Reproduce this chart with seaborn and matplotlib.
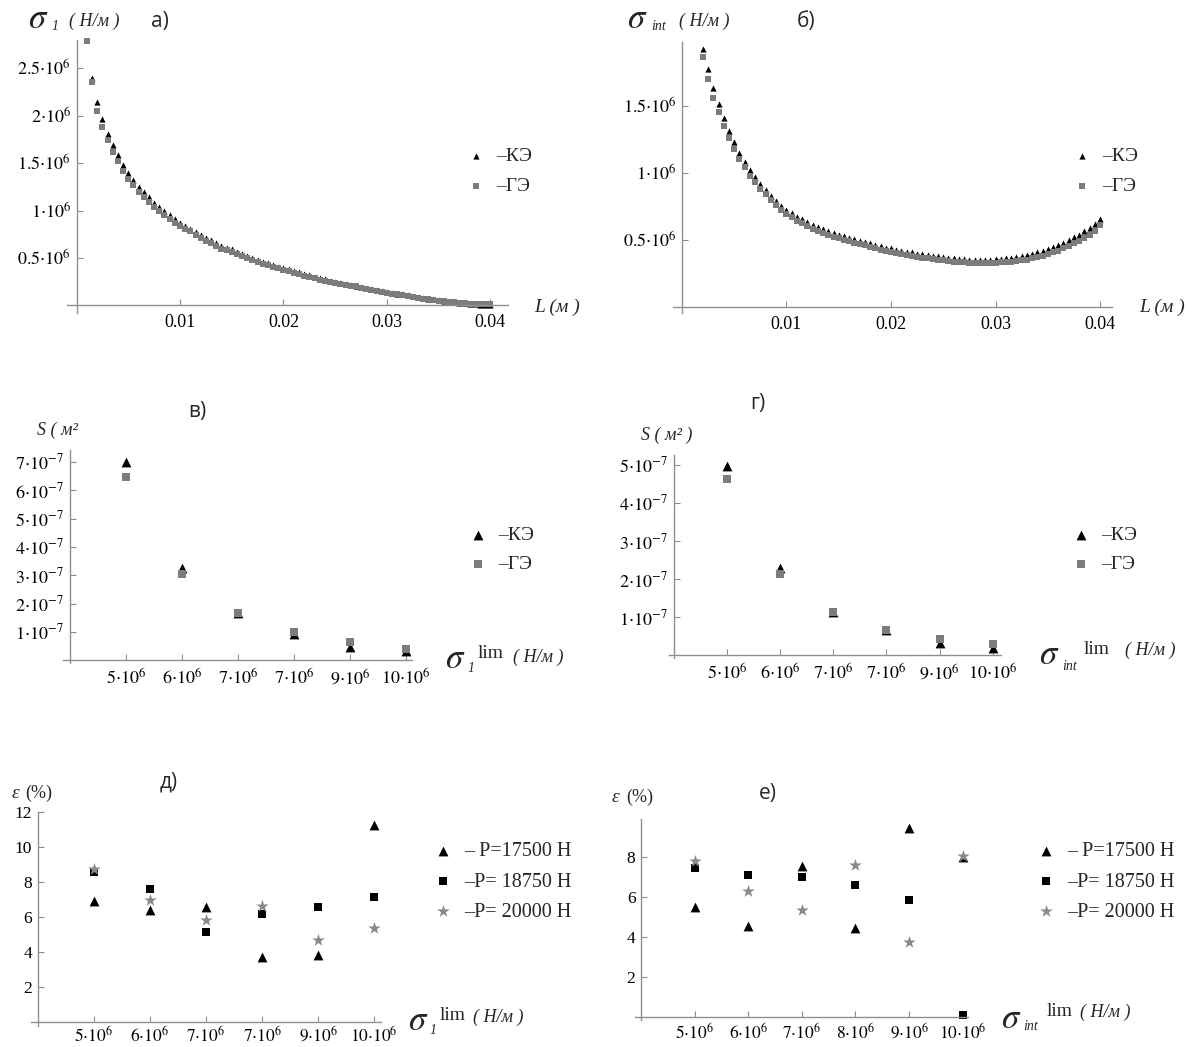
import numpy as np
import pandas as pd
import matplotlib
matplotlib.use("Agg")
import matplotlib.pyplot as plt
import seaborn as sns

# ---------------- data ----------------
# panel a: sigma_1 (x1e6 N/m) vs L (m)
L_a = [0.0015, 0.002, 0.0025, 0.003, 0.0035, 0.004, 0.0045, 0.005, 0.0055, 0.006,
       0.0065, 0.007, 0.0075, 0.008, 0.0085, 0.009, 0.0095, 0.010, 0.0105, 0.011,
       0.0115, 0.012, 0.0125, 0.013, 0.0135, 0.014, 0.0145, 0.015, 0.0155, 0.016,
       0.0165, 0.017, 0.0175, 0.018, 0.0185, 0.019, 0.0195, 0.020, 0.0205, 0.021,
       0.0215, 0.022, 0.0225, 0.023, 0.0235, 0.024, 0.0245, 0.025, 0.0255, 0.026,
       0.0265, 0.027, 0.0275, 0.028, 0.0285, 0.029, 0.0295, 0.030, 0.0305, 0.031,
       0.0315, 0.032, 0.0325, 0.033, 0.0335, 0.034, 0.0345, 0.035, 0.0355, 0.036,
       0.0365, 0.037, 0.0375, 0.038, 0.0385, 0.039, 0.0395, 0.040]
sigma1_ke = [2.40, 2.14, 1.96, 1.81, 1.69, 1.58, 1.48, 1.39, 1.32, 1.25,
             1.19, 1.14, 1.08, 1.04, 0.99, 0.95, 0.91, 0.87, 0.84, 0.81,
             0.77, 0.74, 0.71, 0.69, 0.66, 0.63, 0.61, 0.59, 0.56, 0.54,
             0.52, 0.50, 0.48, 0.46, 0.45, 0.43, 0.41, 0.39, 0.38, 0.36,
             0.35, 0.33, 0.32, 0.30, 0.29, 0.28, 0.26, 0.25, 0.24, 0.23,
             0.22, 0.21, 0.19, 0.18, 0.17, 0.16, 0.15, 0.14, 0.13, 0.12,
             0.12, 0.11, 0.10, 0.09, 0.08, 0.07, 0.07, 0.06, 0.05, 0.045,
             0.04, 0.03, 0.025, 0.02, 0.015, 0.01, 0.005, 0.0]
L_a_ge = [0.001] + L_a
sigma1_ge = [2.78,
             2.35, 2.05, 1.88, 1.74, 1.62, 1.52, 1.42, 1.33, 1.27, 1.20,
             1.14, 1.09, 1.04, 1.00, 0.95, 0.91, 0.87, 0.84, 0.81, 0.78,
             0.74, 0.71, 0.68, 0.66, 0.63, 0.60, 0.58, 0.56, 0.54, 0.52,
             0.50, 0.48, 0.46, 0.44, 0.43, 0.41, 0.39, 0.37, 0.36, 0.34,
             0.33, 0.31, 0.30, 0.29, 0.27, 0.26, 0.25, 0.24, 0.23, 0.22,
             0.21, 0.20, 0.18, 0.17, 0.16, 0.15, 0.14, 0.13, 0.12, 0.12,
             0.11, 0.10, 0.09, 0.08, 0.07, 0.07, 0.06, 0.05, 0.05, 0.04,
             0.035, 0.03, 0.025, 0.02, 0.02, 0.015, 0.015, 0.015]

# panel b: sigma_int (x1e6 N/m) vs L (m)
L_b = [0.002, 0.0025, 0.003, 0.0035, 0.004, 0.0045, 0.005, 0.0055, 0.006, 0.0065,
       0.007, 0.0075, 0.008, 0.0085, 0.009, 0.0095, 0.010, 0.0105, 0.011, 0.0115,
       0.012, 0.0125, 0.013, 0.0135, 0.014, 0.0145, 0.015, 0.0155, 0.016, 0.0165,
       0.017, 0.0175, 0.018, 0.0185, 0.019, 0.0195, 0.020, 0.0205, 0.021, 0.0215,
       0.022, 0.0225, 0.023, 0.0235, 0.024, 0.0245, 0.025, 0.0255, 0.026, 0.0265,
       0.027, 0.0275, 0.028, 0.0285, 0.029, 0.0295, 0.030, 0.0305, 0.031, 0.0315,
       0.032, 0.0325, 0.033, 0.0335, 0.034, 0.0345, 0.035, 0.0355, 0.036, 0.0365,
       0.037, 0.0375, 0.038, 0.0385, 0.039, 0.0395, 0.040]
sigmaint_ke = [1.92, 1.77, 1.63, 1.51, 1.41, 1.31, 1.23, 1.15, 1.08, 1.02,
               0.97, 0.92, 0.87, 0.83, 0.79, 0.755, 0.725, 0.70, 0.675, 0.655,
               0.635, 0.615, 0.60, 0.585, 0.57, 0.555, 0.54, 0.53, 0.515, 0.505,
               0.495, 0.485, 0.475, 0.465, 0.455, 0.445, 0.44, 0.43, 0.42, 0.415,
               0.41, 0.40, 0.395, 0.39, 0.385, 0.38, 0.375, 0.37, 0.365, 0.36,
               0.36, 0.355, 0.355, 0.355, 0.355, 0.355, 0.36, 0.36, 0.365, 0.37,
               0.375, 0.38, 0.39, 0.40, 0.41, 0.42, 0.435, 0.45, 0.465, 0.48,
               0.50, 0.52, 0.54, 0.565, 0.59, 0.62, 0.66]
sigmaint_ge = [1.86, 1.70, 1.56, 1.45, 1.35, 1.26, 1.18, 1.10, 1.04, 0.98,
               0.93, 0.88, 0.84, 0.80, 0.76, 0.725, 0.695, 0.67, 0.645, 0.625,
               0.605, 0.585, 0.57, 0.555, 0.54, 0.525, 0.515, 0.50, 0.49, 0.48,
               0.47, 0.46, 0.45, 0.44, 0.43, 0.42, 0.41, 0.405, 0.395, 0.39,
               0.385, 0.375, 0.37, 0.365, 0.36, 0.355, 0.35, 0.345, 0.34, 0.335,
               0.335, 0.33, 0.33, 0.33, 0.33, 0.33, 0.33, 0.335, 0.335, 0.34,
               0.345, 0.35, 0.355, 0.365, 0.375, 0.385, 0.395, 0.41, 0.42, 0.44,
               0.455, 0.475, 0.495, 0.515, 0.54, 0.57, 0.61]

# panels c-f: limit stress (x1e6 N/m)
sigma_lim = [5, 6, 7, 8, 9, 10]
lim_labels_c = ["5", "6", "7", "7", "9", "10"]
lim_labels_f = ["5", "6", "7", "8", "9", "10"]

# panel в: S (x1e-7 m^2)
S_c_ke = [7.0, 3.24, 1.67, 0.92, 0.47, 0.33]
S_c_ge = [6.48, 3.03, 1.65, 1.00, 0.65, 0.41]
# panel г
S_d_ke = [4.97, 2.28, 1.14, 0.65, 0.32, 0.18]
S_d_ge = [4.62, 2.14, 1.12, 0.65, 0.41, 0.30]
# panel д: eps (%)
eps_e_17500 = [6.93, 6.39, 6.58, 3.72, 3.82, 11.3]
eps_e_18750 = [8.59, 7.63, 5.15, 6.16, 6.58, 7.16]
eps_e_20000 = [8.74, 6.97, 5.86, 6.62, 4.68, 5.40]
# panel е
eps_f_17500 = [5.50, 4.57, 7.57, 4.45, 9.45, 8.00]
eps_f_18750 = [7.45, 7.10, 7.00, 6.58, 5.87, 0.08]
eps_f_20000 = [7.78, 6.28, 5.37, 7.58, 3.75, 8.07]

# ---------------- style ----------------
sns.set_theme(style="white")
plt.rcParams["font.family"] = ["Liberation Serif", "DejaVu Serif"]
plt.rcParams["mathtext.fontset"] = "stix"

BLACK = "#000000"
GRAY = "#7c7c7c"
STAR = "#8a8a8a"
AXC = "#8f8f8f"
SANS = ["Open Sans", "DejaVu Sans"]

W, H = 1196, 1047
fig = plt.figure(figsize=(W / 100, H / 100), dpi=100)


def box(x0, y0, x1, y1):
    return [x0 / W, 1 - y1 / H, (x1 - x0) / W, (y1 - y0) / H]


def ftext(x, y, s, **kw):
    kw.setdefault("va", "center")
    kw.setdefault("ha", "left")
    fig.text(x / W, 1 - y / H, s, **kw)


def style_axes(ax, x0, xlim, ylim, xticks, xlabels, yticks, ylabels, fs=12.5, xpad=6):
    ax.set_xlim(*xlim)
    ax.set_ylim(*ylim)
    for s in ["top", "right"]:
        ax.spines[s].set_visible(False)
    ax.spines["left"].set_position(("data", x0))
    ax.spines["bottom"].set_position(("data", 0))
    for s in ["left", "bottom"]:
        ax.spines[s].set_color(AXC)
        ax.spines[s].set_linewidth(1.0)
    ax.set_xticks(xticks, xlabels)
    ax.set_yticks(yticks, ylabels)
    ax.tick_params(direction="in", length=4, width=0.8, color=AXC,
                   labelsize=fs, labelcolor="black")
    ax.tick_params(axis="x", pad=xpad, bottom=True)
    ax.tick_params(axis="y", pad=4, left=True)
    ax.set_xlabel("")
    ax.set_ylabel("")
    ax.grid(False)
    ax.patch.set_alpha(0)


def add_legend(ax, mx, y_first, y_last, fs, spacing):
    handles, labels = ax.get_legend_handles_labels()
    hl = 1.0
    hw_px = hl * fs * 100 / 72
    yc = (y_first + y_last) / 2
    ax.legend(handles, labels, loc="center left",
              bbox_to_anchor=((mx - hw_px / 2) / W, 1 - yc / H),
              bbox_transform=fig.transFigure, frameon=False, borderpad=0,
              borderaxespad=0, handlelength=hl, handletextpad=0.55,
              labelspacing=spacing, scatterpoints=1,
              prop={"family": ["Liberation Serif"], "size": fs})


def e6(v):
    return r"$%s{\cdot}10^{6}$" % v


def e7(v):
    return r"$%s{\cdot}10^{-7}$" % v


# ---------------- panel а ----------------
ax = fig.add_axes(box(67, 40, 508, 313))
sns.scatterplot(x=L_a, y=sigma1_ke, marker="^", color=BLACK, s=20, linewidth=0,
                ax=ax, label="–КЭ", clip_on=False)
sns.scatterplot(x=L_a_ge, y=sigma1_ge, marker="s", color=GRAY, s=15, linewidth=0,
                ax=ax, label="–ГЭ", clip_on=False)
style_axes(ax, 0, (-0.00092, 0.0417), (-0.079, 2.795),
           [0.01, 0.02, 0.03, 0.04], ["0.01", "0.02", "0.03", "0.04"],
           [0.5, 1, 1.5, 2, 2.5], [e6("0.5"), e6("1"), e6("1.5"), e6("2"), e6("2.5")],
           fs=13)
add_legend(ax, 476, 154, 189, 14, 0.65)
ftext(28, 19, r"$\sigma$", size=25)
ftext(52, 26, "1", size=10, fontstyle="italic")
ftext(69, 21, "( Н/м )", size=13, fontstyle="italic")
ftext(151, 22, "а)", size=15, family=SANS)
ftext(534, 307, "L (м )", size=14, fontstyle="italic")

# ---------------- panel б ----------------
ax = fig.add_axes(box(673, 42, 1111.5, 313))
sns.scatterplot(x=L_b, y=sigmaint_ke, marker="^", color=BLACK, s=20, linewidth=0,
                ax=ax, label="–КЭ", clip_on=False)
sns.scatterplot(x=L_b, y=sigmaint_ge, marker="s", color=GRAY, s=15, linewidth=0,
                ax=ax, label="–ГЭ", clip_on=False)
style_axes(ax, 0, (-0.00086, 0.0411), (-0.042, 1.973),
           [0.01, 0.02, 0.03, 0.04], ["0.01", "0.02", "0.03", "0.04"],
           [0.5, 1, 1.5], [e6("0.5"), e6("1"), e6("1.5")], fs=13)
add_legend(ax, 1082, 154, 189, 14, 0.65)
ftext(627, 19, r"$\sigma$", size=25)
ftext(651, 26, "int", size=10, fontstyle="italic")
ftext(679, 21, "( Н/м )", size=13, fontstyle="italic")
ftext(797, 22, "б)", size=15, family=SANS)
ftext(1139, 307, "L (м )", size=14, fontstyle="italic")

# ---------------- panel в ----------------
ax = fig.add_axes(box(62.7, 450, 412, 663))
sns.scatterplot(x=sigma_lim, y=S_c_ke, marker="^", color=BLACK, s=50, linewidth=0,
                ax=ax, label="–КЭ", clip_on=False)
sns.scatterplot(x=sigma_lim, y=S_c_ge, marker="s", color=GRAY, s=32, linewidth=0,
                ax=ax, label="–ГЭ", clip_on=False)
style_axes(ax, 4, (3.875, 10.11), (-0.1, 7.42),
           sigma_lim, [e6(v) for v in lim_labels_c],
           [1, 2, 3, 4, 5, 6, 7], [e7(v) for v in range(1, 8)], fs=13)
add_legend(ax, 478, 533, 567, 14, 0.6)
ftext(188, 412, "в)", size=15, family=SANS)
ftext(37, 430, "S ( м²", size=13, fontstyle="italic")
ftext(445, 659, r"$\sigma$", size=25)
ftext(467, 668, "1", size=10, fontstyle="italic")
ftext(478, 653, "lim", size=14)
ftext(513, 657, "( Н/м )", size=13, fontstyle="italic")

# ---------------- panel г ----------------
ax = fig.add_axes(box(668.5, 455, 1001, 658))
sns.scatterplot(x=sigma_lim, y=S_d_ke, marker="^", color=BLACK, s=50, linewidth=0,
                ax=ax, label="–КЭ", clip_on=False)
sns.scatterplot(x=sigma_lim, y=S_d_ge, marker="s", color=GRAY, s=32, linewidth=0,
                ax=ax, label="–ГЭ", clip_on=False)
style_axes(ax, 4, (3.906, 10.156), (-0.08, 5.26),
           sigma_lim, [e6(v) for v in lim_labels_c],
           [1, 2, 3, 4, 5], [e7(v) for v in range(1, 6)], fs=13)
add_legend(ax, 1081, 533, 567, 14, 0.6)
ftext(750, 403, "г)", size=15, family=SANS)
ftext(641, 435, "S ( м² )", size=13, fontstyle="italic")
ftext(1039, 656, r"$\sigma$", size=25)
ftext(1062, 666, "int", size=10, fontstyle="italic")
ftext(1084, 650, "lim", size=14)
ftext(1125, 650, "( Н/м )", size=13, fontstyle="italic")

# ---------------- panel д ----------------
ax = fig.add_axes(box(31, 811.7, 381, 1026))
sns.scatterplot(x=sigma_lim, y=eps_e_17500, marker="^", color=BLACK, s=50, linewidth=0,
                ax=ax, label="– P=17500 Н", clip_on=False)
sns.scatterplot(x=sigma_lim, y=eps_e_18750, marker="s", color=BLACK, s=32, linewidth=0,
                ax=ax, label="–P= 18750 Н", clip_on=False)
sns.scatterplot(x=sigma_lim, y=eps_e_20000, marker="*", color=STAR, s=90, linewidth=0,
                ax=ax, label="–P= 20000 Н", clip_on=False)
style_axes(ax, 4, (3.884, 10.12), (-0.23, 12.04),
           sigma_lim, [e6(v) for v in lim_labels_c],
           [2, 4, 6, 8, 10, 12], ["2", "4", "6", "8", "10", "12"], fs=12.5, xpad=2.5)
add_legend(ax, 443, 847, 917, 14.5, 0.55)
ftext(160, 782, "д)", size=15, family=SANS)
ftext(12, 793, "ε", size=14, fontstyle="italic")
ftext(25, 793, "(%)", size=13)
ftext(408, 1022, r"$\sigma$", size=25)
ftext(430, 1030, "1", size=10, fontstyle="italic")
ftext(440, 1015, "lim", size=14)
ftext(473, 1017, "( Н/м )", size=13, fontstyle="italic")

# ---------------- panel е ----------------
ax = fig.add_axes(box(635.4, 819.3, 968.5, 1020))
sns.scatterplot(x=sigma_lim, y=eps_f_17500, marker="^", color=BLACK, s=50, linewidth=0,
                ax=ax, label="– P=17500 Н", clip_on=False)
sns.scatterplot(x=sigma_lim, y=eps_f_18750, marker="s", color=BLACK, s=32, linewidth=0,
                ax=ax, label="–P= 18750 Н", clip_on=False)
sns.scatterplot(x=sigma_lim, y=eps_f_20000, marker="*", color=STAR, s=90, linewidth=0,
                ax=ax, label="–P= 20000 Н", clip_on=False)
style_axes(ax, 4, (3.895, 10.11), (-0.15, 9.88),
           sigma_lim, [e6(v) for v in lim_labels_f],
           [2, 4, 6, 8], ["2", "4", "6", "8"], fs=12.5, xpad=4)
add_legend(ax, 1046, 847, 917, 14.5, 0.55)
ftext(759, 793, "е)", size=15, family=SANS)
ftext(612, 797, "ε", size=14, fontstyle="italic")
ftext(626, 797, "(%)", size=13)
ftext(1001, 1019, r"$\sigma$", size=25)
ftext(1023, 1027, "int", size=10, fontstyle="italic")
ftext(1047, 1011, "lim", size=14)
ftext(1080, 1012, "( Н/м )", size=13, fontstyle="italic")

fig.savefig("out.png", dpi=100)
